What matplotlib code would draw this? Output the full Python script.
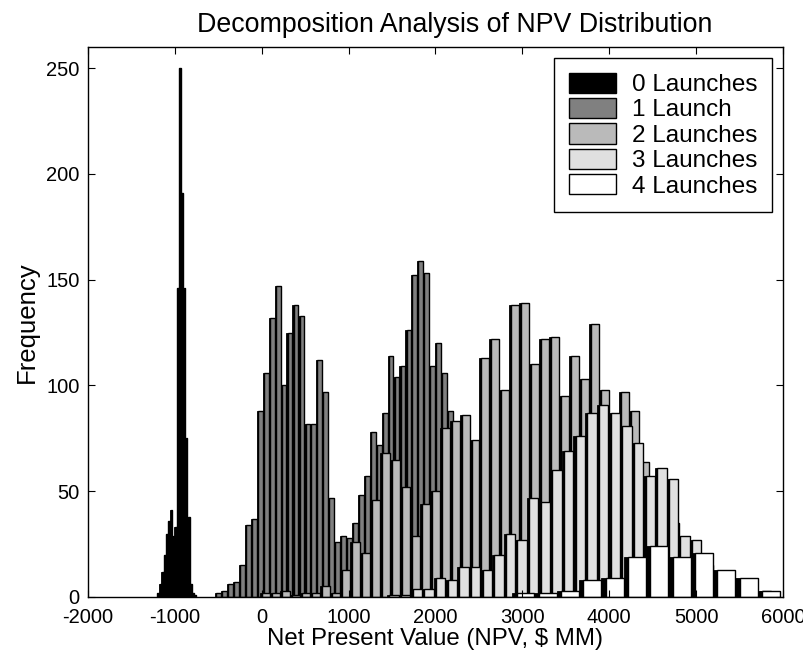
import numpy as np
import matplotlib
matplotlib.use('Agg')
import matplotlib.pyplot as plt
from matplotlib.patches import Patch

plt.rcParams['font.family'] = ['Liberation Sans', 'DejaVu Sans']

# ---- data -------------------------------------------------------------
series_labels = ['0 Launches', '1 Launch', '2 Launches', '3 Launches', '4 Launches']
series_colors = ['#000000', '#808080', '#bababa', '#e0e0e0', '#ffffff']

# first bin edge and bin width ($ MM) of each histogram
launch0_start, launch0_width = -1205, 25
launch1_start, launch1_width = -536, 68.4
launch2_start, launch2_width = -15, 114.6
launch3_start, launch3_width = 1443, 134
launch4_start, launch4_width = 2881, 257

launch0_counts = [2, 6, 12, 20, 30, 36, 41, 29, 33, 146, 250, 191, 146, 75, 38, 6, 2, 1]
launch1_counts = [2, 3, 6, 7, 15, 34, 37, 88, 106, 132, 147, 100, 125, 138, 133, 82, 82,
                  112, 97, 47, 26, 29, 28, 35, 48, 57, 78, 72, 87, 114, 104, 109, 126, 152,
                  159, 153, 109, 120, 106, 88, 70, 60, 55, 50, 57, 40, 30, 20, 12, 6, 3]
launch2_counts = [2, 2, 3, 1, 2, 2, 5, 2, 13, 26, 21, 46, 68, 65, 52, 29, 44, 50, 80, 83,
                  86, 74, 113, 122, 98, 138, 139, 110, 122, 123, 95, 114, 103, 129, 98, 80,
                  97, 88, 64, 50, 46, 35, 20, 12, 6, 3]
launch3_counts = [1, 1, 4, 4, 9, 8, 14, 14, 13, 20, 30, 27, 47, 45, 60, 69, 76, 87, 91, 87,
                  81, 73, 57, 61, 56, 29, 27, 15, 8, 4, 2, 1, 3]
launch4_counts = [2, 2, 3, 8, 9, 19, 24, 19, 21, 13, 9, 3]

x_ticks = [-2000, -1000, 0, 1000, 2000, 3000, 4000, 5000, 6000]
x_tick_labels = ['-2000', '-1000', '0', '1000', '2000', '3000', '4000', '5000', '6000']
y_ticks = [0, 50, 100, 150, 200, 250]

series = [
    (launch0_start, launch0_width, launch0_counts),
    (launch1_start, launch1_width, launch1_counts),
    (launch2_start, launch2_width, launch2_counts),
    (launch3_start, launch3_width, launch3_counts),
    (launch4_start, launch4_width, launch4_counts),
]

# ---- plot -------------------------------------------------------------
fig = plt.figure(figsize=(8.04, 6.55), dpi=100)
ax = fig.add_axes([88 / 804, 1 - 597 / 655, (783 - 88) / 804, (597 - 47) / 655])

GAP = 0.2
for (start, width, counts), color in zip(series, series_colors):
    counts = np.asarray(counts, dtype=float)
    lefts = start + width * np.arange(len(counts))
    # dark backing of each bin
    ax.bar(lefts, counts, width=width, align='edge', color='black',
           edgecolor='black', linewidth=0.6)
    # face of each bin
    ax.bar(lefts + GAP * width, counts, width=(1 - GAP) * width, align='edge',
           color=color, edgecolor='black', linewidth=1.0)

ax.set_xlim(-2000, 6000)
ax.set_ylim(0, 260)
ax.set_xticks(x_ticks)
ax.set_yticks(y_ticks)
ax.set_xticklabels(x_tick_labels)
ax.tick_params(direction='in', top=True, right=True, length=5, width=0.8,
               labelsize=14.5, colors='black')
ax.tick_params(axis='x', pad=8)
ax.tick_params(axis='y', pad=6)
for sp in ax.spines.values():
    sp.set_linewidth(1.0)
    sp.set_color('black')

ax.set_title('Decomposition Analysis of NPV Distribution', fontsize=19.3, pad=11, x=0.527)
ax.set_xlabel('Net Present Value (NPV, $ MM)', fontsize=17.3, labelpad=1)
ax.set_ylabel('Frequency', fontsize=18.5, labelpad=5)

handles = [Patch(facecolor=c, edgecolor='black', linewidth=1.0) for c in series_colors]
leg = ax.legend(handles, series_labels, loc='upper right', fontsize=17.5,
                frameon=True, fancybox=False, framealpha=1, edgecolor='black',
                handlelength=1.95, handleheight=0.9, handletextpad=0.65,
                labelspacing=0.08, borderpad=0.6, borderaxespad=0.45)
leg.get_frame().set_linewidth(1.0)

fig.savefig('out.png', dpi=100)
